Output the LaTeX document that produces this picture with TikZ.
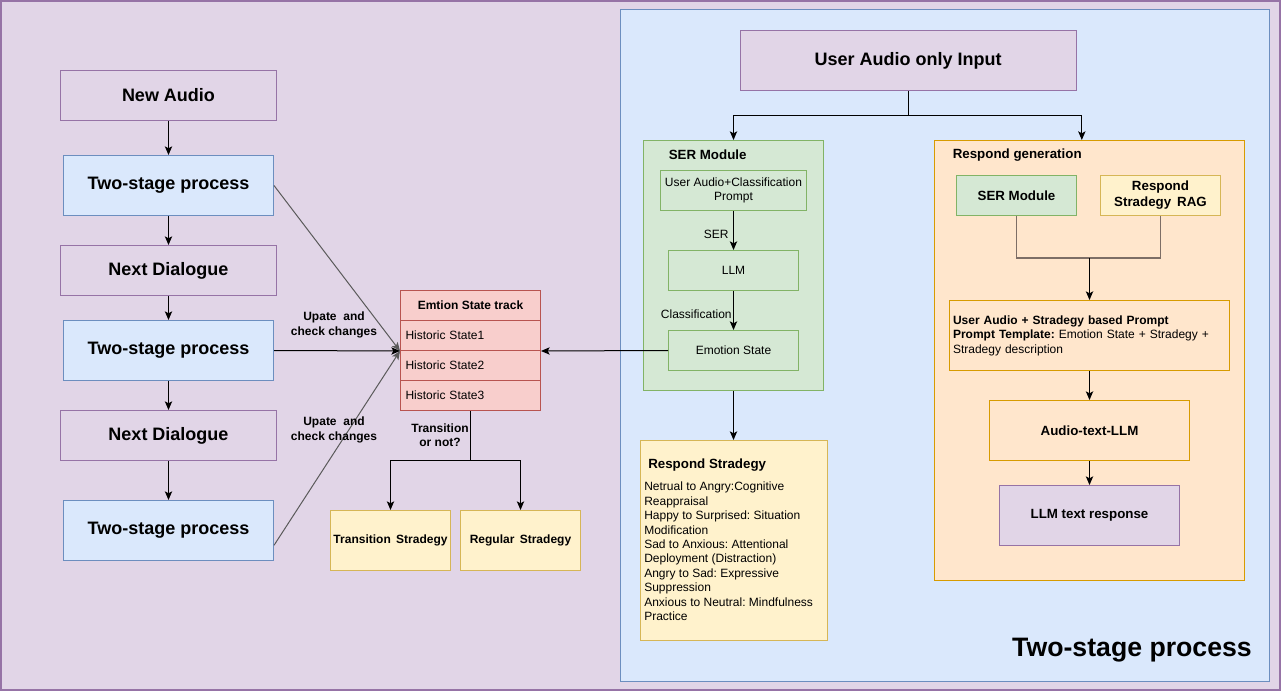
\documentclass[tikz,border=0pt]{standalone}
\usepackage{fontspec}
\setmainfont{Liberation Sans}
\usetikzlibrary{arrows.meta}
\frenchspacing
\newlength{\pxu}
\setlength{\pxu}{0.75pt}
\definecolor{purplefill}{HTML}{E1D5E7}
\definecolor{purpleline}{HTML}{9673A6}
\definecolor{bluefill}{HTML}{DAE8FC}
\definecolor{blueline}{HTML}{6C8EBF}
\definecolor{greenfill}{HTML}{D5E8D4}
\definecolor{greenline}{HTML}{82B366}
\definecolor{yellowfill}{HTML}{FFF2CC}
\definecolor{yellowline}{HTML}{D6B656}
\definecolor{orangefill}{HTML}{FFE6CC}
\definecolor{orangeline}{HTML}{D79B00}
\definecolor{redfill}{HTML}{F8CECC}
\definecolor{redline}{HTML}{B85450}
\definecolor{diagline}{HTML}{5A5A5A}
\definecolor{mixline}{HTML}{7D6E66}

\begin{document}
\begin{tikzpicture}[x = 0.75pt, y = -0.75pt,
    box/.style = {shape = rectangle, draw, line width = 0.75pt, inner sep = 2pt, align = center},
    purplebox/.style = {box, fill = purplefill, draw = purpleline},
    bluebox/.style = {box, fill = bluefill, draw = blueline},
    greenbox/.style = {box, fill = greenfill, draw = greenline},
    yellowbox/.style = {box, fill = yellowfill, draw = yellowline},
    orangebox/.style = {box, fill = orangefill, draw = orangeline},
    redbox/.style = {box, fill = redfill, draw = redline},
    big/.style = {font = \fontsize{13.5}{16}\selectfont\bfseries},
    title/.style = {font = \fontsize{10}{12}\selectfont\bfseries},
    small/.style = {font = \fontsize{9}{10.8}\selectfont},
    smallbold/.style = {font = \fontsize{9}{10.8}\selectfont\bfseries},
    link/.style = {-{Stealth[length = 6.5pt, width = 5.5pt, inset = 1.5pt]}, line width = 0.75pt},
    wire/.style = {line width = 0.75pt}]
    \useasboundingbox (0,0) rectangle (1281,691);
    \draw[fill = purplefill, draw = purpleline, line width = 1pt] (1,1) rectangle (1280,690);
    \node[box, fill = bluefill, draw = blueline, minimum width = 649\pxu, minimum height = 671\pxu] (stage) at (944.5,345.5) {};
    \node[font = \fontsize{20}{24}\selectfont\bfseries] (stagelabel) at (1132,650) {Two-stage process};

    \node[purplebox, big, minimum width = 216\pxu, minimum height = 50\pxu] (newaudio) at (168.5,95.5) {New Audio};
    \node[bluebox, big, minimum width = 210\pxu, minimum height = 60\pxu] (twostageA) at (168.5,185.5) {Two-stage process};
    \node[purplebox, big, minimum width = 216\pxu, minimum height = 50\pxu] (nextA) at (168.5,270.5) {Next Dialogue};
    \node[bluebox, big, minimum width = 210\pxu, minimum height = 60\pxu] (twostageB) at (168.5,350.5) {Two-stage process};
    \node[purplebox, big, minimum width = 216\pxu, minimum height = 50\pxu] (nextB) at (168.5,435.5) {Next Dialogue};
    \node[bluebox, big, minimum width = 210\pxu, minimum height = 60\pxu] (twostageC) at (168.5,530.5) {Two-stage process};
    \draw[link] (newaudio) -- (twostageA);
    \draw[link] (twostageA) -- (nextA);
    \draw[link] (nextA) -- (twostageB);
    \draw[link] (twostageB) -- (nextB);
    \draw[link] (nextB) -- (twostageC);

    \node[redbox, smallbold, minimum width = 140\pxu, minimum height = 30\pxu] (track) at (470.5,305.5) {Emtion State track};
    \node[redbox, small, text width = 130\pxu, align = left, minimum width = 140\pxu, minimum height = 30\pxu] (hist1) at (470.5,335.5) {Historic State1};
    \node[redbox, small, text width = 130\pxu, align = left, minimum width = 140\pxu, minimum height = 30\pxu] (hist2) at (470.5,365.5) {Historic State2};
    \node[redbox, small, text width = 130\pxu, align = left, minimum width = 140\pxu, minimum height = 30\pxu] (hist3) at (470.5,395.5) {Historic State3};
    \draw[link, draw = diagline] (twostageA.east) -- (hist1.south west);
    \draw[link] (twostageB.east) -- (hist1.south west);
    \draw[link, draw = diagline] (twostageC.-8) -- (hist1.south west);
    \node[smallbold, align = center] (updA) at (334,325) {Upate~ and\\check changes};
    \node[smallbold, align = center] (updB) at (334,430) {Upate~ and\\check changes};

    \node[yellowbox, smallbold, minimum width = 120\pxu, minimum height = 60\pxu] (transition) at (390.5,540.5) {Transition\, Stradegy};
    \node[yellowbox, smallbold, minimum width = 120\pxu, minimum height = 60\pxu] (regular) at (520.5,540.5) {Regular\, Stradegy};
    \coordinate (tsplit) at (470.5,460.5);
    \draw[wire] (hist3.south) -- (tsplit);
    \draw[link] (tsplit) -| (transition.north);
    \draw[link] (tsplit) -| (regular.north);
    \node[smallbold, align = center] (choose) at (440,435) {Transition\\or not?};

    \node[purplebox, big, minimum width = 336\pxu, minimum height = 60\pxu] (ua) at (908,60.5) {User Audio only Input};
    \node[greenbox, minimum width = 180\pxu, minimum height = 250\pxu] (sercontainer) at (733.5,265.5) {};
    \node[orangebox, minimum width = 310\pxu, minimum height = 440\pxu] (gencontainer) at (1089.5,360.5) {};
    \coordinate (uasplit) at (908,115.5);
    \draw[wire] (ua.south) -- (uasplit);
    \draw[link] (uasplit) -| (sercontainer.north);
    \draw[link] (uasplit) -| (gencontainer.92);

    \node[title, anchor = west, inner sep = 0pt] (sertitle) at (668.5,155) {SER Module};
    \node[greenbox, small, minimum width = 146\pxu, minimum height = 40\pxu] (serprompt) at (733.5,190.5) {User Audio+Classification\\Prompt};
    \node[greenbox, small, minimum width = 130\pxu, minimum height = 40\pxu] (serllm) at (733.5,270.5) {LLM};
    \node[greenbox, small, minimum width = 130\pxu, minimum height = 40\pxu] (seremo) at (733.5,350.5) {Emotion State};
    \draw[link] (serprompt) -- node[pos = 0.6, left, small] {SER} (serllm);
    \draw[link] (serllm) -- node[pos = 0.6, left, small, inner sep = 1pt] {Classification} (seremo);
    \draw[link] (seremo.west) -- (hist1.south east);

    \node[yellowbox, minimum width = 187\pxu, minimum height = 200\pxu] (rsbox) at (733.5,540.5) {};
    \draw[link] (sercontainer.south) -- (rsbox.north);
    \node[title, anchor = west, inner sep = 0pt] (rstitle) at (648,465) {Respond Stradegy};
    \node[small, anchor = north west, align = left, inner sep = 0pt] (rstext) at (644,482) {Netrual to Angry:Cognitive\\Reappraisal\\Happy to Surprised: Situation\\Modification\\Sad to Anxious: Attentional\\Deployment (Distraction)\\Angry to Sad: Expressive\\Suppression\\Anxious to Neutral: Mindfulness\\Practice};

    \node[title, anchor = west, inner sep = 0pt] (gentitle) at (952.5,155) {Respond generation};
    \node[greenbox, title, minimum width = 120\pxu, minimum height = 40\pxu] (gensermod) at (1016.5,195.5) {SER Module};
    \node[yellowbox, title, minimum width = 120\pxu, minimum height = 40\pxu] (genrag) at (1160.5,195.5) {Respond\\Stradegy\, RAG};
    \coordinate (genjoin) at (1089.5,258);
    \draw[line width = 1.1pt, draw = mixline] (gensermod.south) |- (genjoin) -| (genrag.south);
    \node[orangebox, small, text width = 273\pxu, align = left, minimum width = 280\pxu, minimum height = 70\pxu] (prompt) at (1089.5,335.5) {\textbf{User Audio + Stradegy based Prompt}\\\textbf{Prompt Template:} Emotion State + Stradegy +\\Stradegy description};
    \draw[link] (genjoin) -- (prompt.north);
    \node[orangebox, title, minimum width = 200\pxu, minimum height = 60\pxu] (audiollm) at (1089.5,430.5) {Audio-text-LLM};
    \node[purplebox, title, minimum width = 180\pxu, minimum height = 60\pxu] (llmresp) at (1089.5,515.5) {LLM text response};
    \draw[link] (prompt) -- (audiollm);
    \draw[link] (audiollm) -- (llmresp);
\end{tikzpicture}
\end{document}
